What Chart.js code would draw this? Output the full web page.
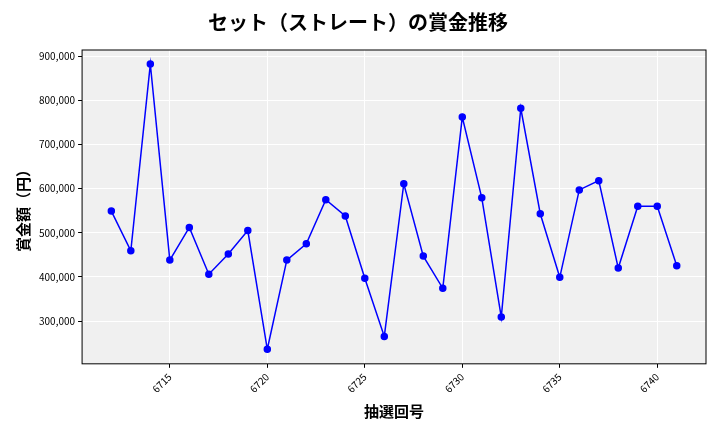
<!DOCTYPE html>
<html><head><meta charset="utf-8">
<script src="https://cdn.jsdelivr.net/npm/chart.js@4"></script>
<style>body{margin:0;background:#fff}#wrap{width:720px;height:432px}</style>
</head><body><div id="wrap"><canvas id="c"></canvas></div>
<script>
const draws = [6712,6713,6714,6715,6716,6717,6718,6719,6720,6721,6722,6723,6724,6725,6726,6727,6728,6729,6730,6731,6732,6733,6734,6735,6736,6737,6738,6739,6740,6741];
const prizes = [549000,459000,882000,438000,512000,406000,452000,505000,236000,438000,475000,575000,538000,397000,265000,611000,447000,374000,762000,579000,309000,782000,543000,399000,597000,618000,420000,560000,560000,425000];
const xTicks = [6715,6720,6725,6730,6735,6740];
const font = "'Noto Sans CJK JP', 'DejaVu Sans', sans-serif";

const bgPlugin = {
  id: 'bg',
  beforeDraw(chart){
    const {ctx, chartArea:a} = chart;
    ctx.save(); ctx.fillStyle = '#f0f0f0';
    ctx.fillRect(a.left, a.top, a.width, a.height); ctx.restore();
  },
  afterDraw(chart){
    const {ctx, chartArea:a} = chart;
    ctx.save(); ctx.strokeStyle = '#000'; ctx.lineWidth = 1;
    ctx.strokeRect(a.left, a.top, a.width, a.height); ctx.restore();
  }
};

new Chart(document.getElementById('c'), {
  type: 'line',
  data: { datasets: [{
    data: draws.map((d, i) => ({x: d, y: prizes[i]})),
    borderColor: '#0000ff', backgroundColor: '#0000ff',
    borderWidth: 1.5, pointRadius: 3, tension: 0
  }]},
  options: {
    animation: false, responsive: true, maintainAspectRatio: false,
    layout: { padding: { left: 10, right: 14, top: 8, bottom: 8 } },
    plugins: {
      legend: { display: false },
      title: { display: true, text: 'セット（ストレート）の賞金推移', color: '#000',
        font: { family: font, size: 20, weight: 'bold' }, padding: { top: 2, bottom: 16 } }
    },
    scales: {
      x: {
        type: 'linear', min: 6710.5, max: 6742.5,
        afterBuildTicks: ax => { ax.ticks = xTicks.map(v => ({value: v})); },
        grid: { color: '#ffffff', drawTicks: true, tickColor: '#000', tickLength: 4 },
        border: { display: false },
        ticks: { color: '#000', maxRotation: 45, minRotation: 45, font: { family: font, size: 10 }, callback: v => String(v) },
        title: { display: true, text: '抽選回号', color: '#000', font: { family: font, size: 15, weight: 'bold' } }
      },
      y: {
        min: 203000, max: 914000,
        afterBuildTicks: ax => { ax.ticks = [300000,400000,500000,600000,700000,800000,900000].map(v => ({value: v})); },
        grid: { color: '#ffffff', drawTicks: true, tickColor: '#000', tickLength: 4 },
        border: { display: false },
        ticks: { color: '#000', font: { family: font, size: 10 }, callback: v => v.toLocaleString('en-US') },
        title: { display: true, text: '賞金額（円）', color: '#000', font: { family: font, size: 15, weight: 'bold' } }
      }
    }
  },
  plugins: [bgPlugin]
});
</script></body></html>
